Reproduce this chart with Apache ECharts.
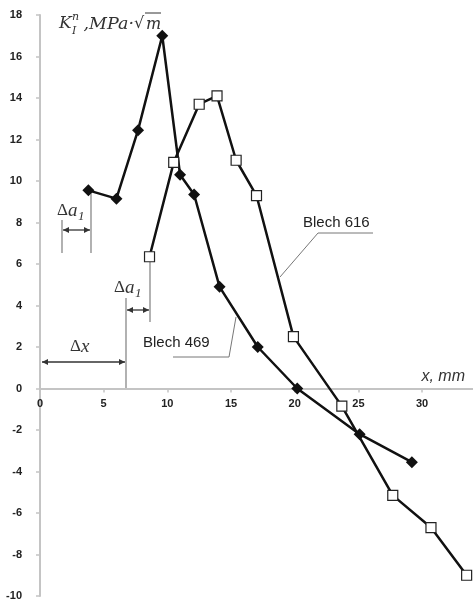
<!DOCTYPE html>
<html>
<head>
<meta charset="utf-8">
<script src="https://cdn.jsdelivr.net/npm/echarts@6/dist/echarts.min.js"></script>
<style>
  html, body { margin: 0; padding: 0; background: #fff; }
  #main { width: 473px; height: 601px; }
</style>
</head>
<body>
<div id="main"></div>
<script>
// Blech 469 (filled diamonds)
var x469 = [3.8, 6.0, 7.7, 9.6, 11.0, 12.1, 14.1, 17.1, 20.2, 25.1, 29.2];
var y469 = [9.55, 9.15, 12.45, 17.0, 10.3, 9.35, 4.9, 2.0, 0.0, -2.2, -3.55];
// Blech 616 (open squares)
var x616 = [8.6, 10.5, 12.5, 13.9, 15.4, 17.0, 19.9, 23.7, 27.7, 30.7, 33.5];
var y616 = [6.35, 10.9, 13.7, 14.1, 11.0, 9.3, 2.5, -0.85, -5.15, -6.7, -9.0];

var xTicks = [0, 5, 10, 15, 20, 25, 30];
var yTicks = [-10, -8, -6, -4, -2, 0, 2, 4, 6, 8, 10, 12, 14, 16, 18];

function pairs(xs, ys) {
  return xs.map(function (x, i) { return [x, ys[i]]; });
}

var myChart = echarts.init(document.getElementById('main'));

var axisGray = '#c4c4c4';
var lblStyle = { color: '#222', fontFamily: 'Liberation Sans, Arial', fontWeight: 'bold', fontSize: 11 };

// small helpers for the hand drawn annotations
function seg(x1, y1, x2, y2, color, w) {
  return { type: 'line', shape: { x1: x1, y1: y1, x2: x2, y2: y2 },
    style: { stroke: color, lineWidth: w }, silent: true };
}
function dblArrow(x1, x2, y) {
  var c = '#333';
  return [
    seg(x1, y, x2, y, c, 1.3),
    { type: 'polygon', shape: { points: [[x1, y], [x1 + 6, y - 3], [x1 + 6, y + 3]] }, style: { fill: c } },
    { type: 'polygon', shape: { points: [[x2, y], [x2 - 6, y - 3], [x2 - 6, y + 3]] }, style: { fill: c } }
  ];
}
function serifTxt(x, y, t, size, italic, align) {
  return { type: 'text', x: x, y: y, style: { text: t, fill: '#333',
    font: (italic ? 'italic ' : '') + size + 'px "DejaVu Serif", "Liberation Serif", serif',
    textAlign: align || 'left', textVerticalAlign: 'middle' } };
}
function deltaLabel(x, y, letter, sub) {
  var out = [
    { type: 'text', x: x, y: y, style: { text: '\u0394', fill: '#333',
      font: '17px "Liberation Serif", serif', textVerticalAlign: 'middle' } },
    { type: 'text', x: x + 11, y: y, style: { text: letter, fill: '#333',
      font: 'italic 19px "Liberation Serif", serif', textVerticalAlign: 'middle' } }
  ];
  if (sub) {
    out.push({ type: 'text', x: x + 21, y: y + 6, style: { text: sub, fill: '#333',
      font: 'italic 13px "Liberation Serif", serif', textVerticalAlign: 'middle' } });
  }
  return out;
}

var graphics = [];
// y-axis title  K_I^n, MPa·√m
graphics.push(serifTxt(59, 24, 'K', 17, true));
graphics.push(serifTxt(72, 17, 'n', 11, true));
graphics.push(serifTxt(72, 31, 'I', 11, true));
graphics.push(serifTxt(134, 24, ',MPa\u00b7', 17.5, true, 'right'));
graphics.push({ type: 'text', x: 134, y: 24, style: { text: '\u221a', fill: '#333',
  font: '16px "DejaVu Sans", sans-serif', textVerticalAlign: 'middle' } });
graphics.push(serifTxt(146, 25, 'm', 16, true));
graphics.push(seg(145, 13, 161, 13, '#333', 1));
// x-axis title
graphics.push({ type: 'text', x: 465, y: 377, style: { text: 'x, mm', fill: '#333',
  font: 'italic 16px "Liberation Sans", Arial', textAlign: 'right', textVerticalAlign: 'middle' } });

// first delta a1
graphics.push(seg(62, 220, 62, 253, '#888', 1.3));
graphics.push(seg(91, 192, 91, 253, '#888', 1.3));
graphics = graphics.concat(dblArrow(63, 90, 230));
graphics = graphics.concat(deltaLabel(57, 211, 'a', '1'));
// second delta a1
graphics.push(seg(126, 298, 126, 390, '#888', 1.3));
graphics.push(seg(150, 262, 150, 322, '#888', 1.3));
graphics = graphics.concat(dblArrow(127, 149, 310));
graphics = graphics.concat(deltaLabel(114, 288, 'a', '1'));
// delta x
graphics = graphics.concat(dblArrow(42, 125, 362));
graphics = graphics.concat(deltaLabel(70, 347, 'x', null));

// series labels with leader lines
graphics.push({ type: 'text', x: 303, y: 223, style: { text: 'Blech 616', fill: '#222',
  font: '15px "Liberation Sans", Arial', textVerticalAlign: 'middle' } });
graphics.push(seg(318, 233, 373, 233, '#777', 1));
graphics.push(seg(318, 233, 280, 277, '#777', 1));
graphics.push({ type: 'text', x: 143, y: 343, style: { text: 'Blech 469', fill: '#222',
  font: '15px "Liberation Sans", Arial', textVerticalAlign: 'middle' } });
graphics.push(seg(173, 357, 229, 357, '#777', 1));
graphics.push(seg(229, 357, 236, 317, '#777', 1));

// grid 0 holds the data; grid 1 covers only the y>=0 part so that its bottom
// x axis (with labels) sits on the zero line
var gridTop = 15, gridBottom = 5, H = 601;
var zeroY = gridTop + (H - gridTop - gridBottom) * 18 / 28;

var option = {
  backgroundColor: '#fff',
  animation: false,
  grid: [
    { left: 40, right: 0, top: gridTop, bottom: gridBottom, containLabel: false, outerBoundsMode: 'none' },
    { left: 40, right: 0, top: gridTop, height: zeroY - gridTop, containLabel: false, outerBoundsMode: 'none' }
  ],
  xAxis: [
    {
      gridIndex: 0, type: 'value', min: 0, max: 34, interval: 5,
      show: false
    },
    {
      gridIndex: 1, type: 'value', min: 0, max: 34, interval: 5,
      position: 'bottom',
      splitLine: { show: false },
      axisLine: { onZero: false, lineStyle: { color: axisGray, width: 2 } },
      axisTick: { length: 4, lineStyle: { color: axisGray, width: 1.5 } },
      axisLabel: {
        margin: 10, showMaxLabel: false, color: lblStyle.color, fontFamily: lblStyle.fontFamily,
        fontWeight: lblStyle.fontWeight, fontSize: lblStyle.fontSize,
        formatter: function (v) { return xTicks.indexOf(v) >= 0 ? String(v) : ''; }
      }
    }
  ],
  yAxis: [
    {
      gridIndex: 0, type: 'value',
      min: yTicks[0], max: yTicks[yTicks.length - 1], interval: 2,
      splitLine: { show: false },
      axisLine: { onZero: false, lineStyle: { color: axisGray, width: 2 } },
      axisTick: { length: 4, lineStyle: { color: axisGray, width: 1.5 } },
      axisLabel: {
        margin: 18, color: lblStyle.color, fontFamily: lblStyle.fontFamily,
        fontWeight: lblStyle.fontWeight, fontSize: lblStyle.fontSize
      }
    },
    {
      gridIndex: 1, type: 'value', min: 0, max: 18, show: false
    }
  ],
  graphic: graphics,
  series: [
    {
      name: 'Blech 469',
      type: 'line',
      xAxisIndex: 0, yAxisIndex: 0,
      data: pairs(x469, y469),
      symbol: 'diamond',
      symbolSize: 12,
      lineStyle: { color: '#111', width: 2.5 },
      itemStyle: { color: '#111' },
      z: 3
    },
    {
      name: 'Blech 616',
      type: 'line',
      xAxisIndex: 0, yAxisIndex: 0,
      data: pairs(x616, y616),
      symbol: 'rect',
      symbolSize: 10,
      lineStyle: { color: '#111', width: 2.5 },
      itemStyle: { color: '#fff', borderColor: '#222', borderWidth: 1.2 },
      z: 4
    }
  ]
};

myChart.setOption(option);
</script>
</body>
</html>
